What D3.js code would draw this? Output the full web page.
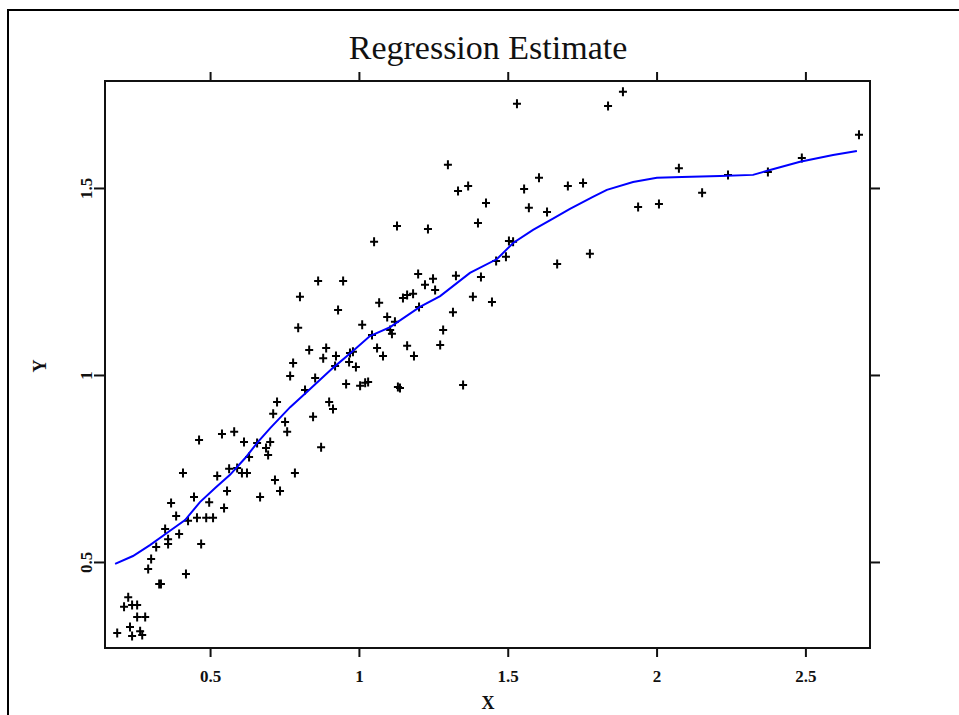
<!DOCTYPE html>
<html>
<head>
<meta charset="utf-8">
<script src="https://cdn.jsdelivr.net/npm/d3@7"></script>
<style>
  body { margin: 0; background: #fff; }
  text { font-family: "Liberation Serif", "DejaVu Serif", serif; fill: #111; }
</style>
</head>
<body>
<div id="chart"></div>
<script>
// scatter points
var pointX = [0.188, 0.225, 0.211, 0.238, 0.255, 0.255, 0.282, 0.231, 0.238, 0.265, 0.272,
    0.329, 0.335, 0.292, 0.302, 0.419, 0.319, 0.359, 0.359, 0.349, 0.396, 0.470, 0.369,
    0.386, 0.446, 0.456, 0.487, 0.510, 0.426, 0.497, 0.547, 0.557, 0.668, 0.735, 0.718,
    0.463, 0.409, 0.524, 0.564, 0.591, 0.607, 0.624, 0.631, 0.540, 0.581, 0.614, 0.658,
    0.702, 0.688, 0.695, 0.785, 0.725, 0.712, 0.752, 0.759, 0.846, 0.873, 0.900, 0.913,
    0.819, 0.957, 1.004, 1.021, 1.031, 0.863, 0.947, 0.802, 0.930, 0.796, 0.833, 0.890,
    0.880, 0.923, 0.920, 0.970, 0.980, 0.967, 0.990, 0.779, 0.769, 0.853, 1.131, 1.068,
    1.011, 1.044, 1.095, 1.121, 1.061, 1.081, 1.148, 1.162, 1.182, 1.199, 1.222, 1.249,
    1.256, 1.316, 1.283, 1.273, 1.162, 1.185, 1.350, 1.326, 1.299, 1.333, 1.367, 1.427,
    1.128, 1.232, 1.400, 1.605, 1.555, 1.571, 1.632, 1.702, 1.753, 1.504, 1.461, 1.494,
    1.410, 1.383, 1.447, 1.202, 1.105, 1.111, 1.138, 1.666, 1.776, 1.531, 1.837, 1.887,
    2.680, 1.938, 2.008, 2.075, 2.153, 2.240, 2.374, 2.488, 1.518, 1.051];
var pointY = [0.310, 0.406, 0.380, 0.385, 0.385, 0.353, 0.353, 0.326, 0.302, 0.315, 0.305,
    0.441, 0.441, 0.481, 0.508, 0.468, 0.540, 0.561, 0.548, 0.588, 0.575, 0.548, 0.658,
    0.623, 0.674, 0.618, 0.618, 0.618, 0.610, 0.660, 0.644, 0.690, 0.674, 0.690, 0.719,
    0.826, 0.738, 0.730, 0.749, 0.751, 0.738, 0.738, 0.781, 0.842, 0.848, 0.821, 0.818,
    0.821, 0.805, 0.786, 0.738, 0.928, 0.896, 0.874, 0.848, 0.888, 0.807, 0.928, 0.909,
    0.960, 0.976, 0.971, 0.979, 0.981, 1.251, 1.251, 1.209, 1.174, 1.126, 1.067, 1.072,
    1.045, 1.051, 1.024, 1.059, 1.062, 1.035, 1.021, 1.032, 0.997, 0.992, 0.968, 1.193,
    1.134, 1.107, 1.155, 1.142, 1.072, 1.051, 1.206, 1.214, 1.217, 1.270, 1.241, 1.257,
    1.227, 1.168, 1.120, 1.080, 1.078, 1.051, 0.973, 1.265, 1.562, 1.492, 1.505, 1.460,
    1.398, 1.390, 1.406, 1.527, 1.497, 1.447, 1.436, 1.505, 1.513, 1.358, 1.305, 1.316,
    1.262, 1.209, 1.195, 1.182, 1.120, 1.110, 0.965, 1.297, 1.324, 1.725, 1.719, 1.757,
    1.642, 1.449, 1.457, 1.553, 1.487, 1.535, 1.543, 1.580, 1.356, 1.356];

// regression estimate curve
var fitX = [0.181, 0.241, 0.298, 0.356, 0.416, 0.466, 0.517, 0.567, 0.618, 0.661, 0.702,
    0.769, 0.826, 0.913, 0.977, 1.037, 1.105, 1.205, 1.273, 1.373, 1.464, 1.518, 1.585,
    1.649, 1.709, 1.786, 1.833, 1.921, 2.001, 2.085, 2.213, 2.324, 2.381, 2.482, 2.593, 2.673];
var fitY = [0.495, 0.516, 0.545, 0.578, 0.612, 0.660, 0.698, 0.733, 0.778, 0.821, 0.858,
    0.914, 0.955, 1.019, 1.062, 1.104, 1.128, 1.182, 1.211, 1.273, 1.310, 1.353, 1.388,
    1.417, 1.444, 1.476, 1.495, 1.516, 1.527, 1.529, 1.532, 1.535, 1.548, 1.570, 1.588, 1.599];

var xTicks = [0.5, 1, 1.5, 2, 2.5];
var yTicks = [0.5, 1, 1.5];

var width = 959, height = 715;
var box = { left: 105, right: 870, top: 81, bottom: 648 };

var svg = d3.select('#chart').append('svg')
    .attr('width', width)
    .attr('height', height);

// outer frame (only top and left edges visible)
svg.append('path')
    .attr('d', 'M8,715 V10 H959')
    .attr('fill', 'none')
    .attr('stroke', '#000')
    .attr('stroke-width', 2);

var x = d3.scaleLinear().domain([0.147, 2.717]).range([box.left, box.right]);
var y = d3.scaleLinear().domain([0.270, 1.786]).range([box.bottom, box.top]);

function styleAxis(g) {
    g.select('.domain').remove();
    g.selectAll('line').attr('stroke', '#111').attr('stroke-width', 2);
}

svg.append('g')
    .attr('transform', 'translate(0,' + box.bottom + ')')
    .call(d3.axisBottom(x).tickValues(xTicks).tickSize(9).tickFormat(d3.format('')))
    .call(styleAxis)
    .selectAll('text')
    .attr('y', 22)
    .style('font-size', '17px')
    .style('font-weight', '700');

svg.append('g')
    .attr('transform', 'translate(0,' + box.top + ')')
    .call(d3.axisTop(x).tickValues(xTicks).tickSize(9).tickFormat(''))
    .call(styleAxis);

svg.append('g')
    .attr('transform', 'translate(' + box.left + ',0)')
    .call(d3.axisLeft(y).tickValues(yTicks).tickSize(11).tickFormat(d3.format('')))
    .call(styleAxis)
    .selectAll('text')
    .attr('transform', 'rotate(-90)')
    .attr('x', 0)
    .attr('y', -13)
    .attr('dy', 0)
    .style('text-anchor', 'middle')
    .style('font-size', '17px')
    .style('font-weight', '700');

svg.append('g')
    .attr('transform', 'translate(' + box.right + ',0)')
    .call(d3.axisRight(y).tickValues(yTicks).tickSize(10).tickFormat(''))
    .call(styleAxis);

// plot box
svg.append('rect')
    .attr('x', box.left).attr('y', box.top)
    .attr('width', box.right - box.left).attr('height', box.bottom - box.top)
    .attr('fill', 'none')
    .attr('stroke', '#111')
    .attr('stroke-width', 2);

// points drawn as "+"
svg.append('g').selectAll('path')
    .data(pointX.map(function (d, i) { return [d, pointY[i]]; }))
    .enter().append('path')
    .attr('transform', function (d) { return 'translate(' + x(d[0]) + ',' + y(d[1]) + ')'; })
    .attr('d', 'M-4,0H4M0,-4.5V4.5')
    .attr('stroke', '#000')
    .attr('stroke-width', 2)
    .attr('fill', 'none');

var line = d3.line()
    .x(function (d) { return x(d[0]); })
    .y(function (d) { return y(d[1]); });

svg.append('path')
    .datum(fitX.map(function (d, i) { return [d, fitY[i]]; }))
    .attr('d', line)
    .attr('fill', 'none')
    .attr('stroke', '#0000ff')
    .attr('stroke-width', 2);

// titles
svg.append('text')
    .attr('x', 488).attr('y', 59)
    .attr('text-anchor', 'middle')
    .style('font-size', '34px')
    .text('Regression Estimate');

svg.append('text')
    .attr('x', 488).attr('y', 709)
    .attr('text-anchor', 'middle')
    .style('font-size', '18px')
    .style('font-weight', '700')
    .text('X');

svg.append('text')
    .attr('transform', 'translate(46,366) rotate(-90)')
    .attr('text-anchor', 'middle')
    .style('font-size', '18px')
    .style('font-weight', '700')
    .text('Y');
</script>
</body>
</html>
